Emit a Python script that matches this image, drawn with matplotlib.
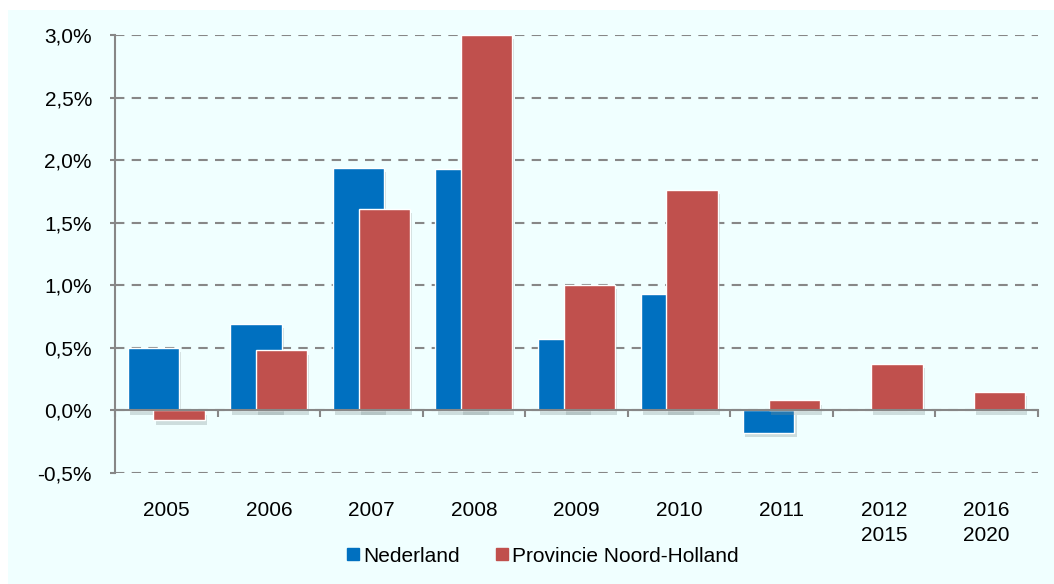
import matplotlib.pyplot as plt
import matplotlib.patheffects as pe
from matplotlib.lines import Line2D
from matplotlib.patches import Rectangle
import numpy as np

# data
categories = ['2005', '2006', '2007', '2008', '2009', '2010', '2011', '2012\n2015', '2016\n2020']
nederland = [0.50, 0.69, 1.94, 1.93, 0.57, 0.93, -0.18, 0.0, 0.0]
noord_holland = [-0.08, 0.48, 1.61, 3.00, 1.00, 1.76, 0.08, 0.37, 0.15]
yticks = [-0.5, 0.0, 0.5, 1.0, 1.5, 2.0, 2.5, 3.0]

blue = '#0070C0'
red = '#C0504D'
grey = '#878787'

plt.rcParams['font.family'] = ['Liberation Sans', 'DejaVu Sans']

fig = plt.figure(figsize=(10.54, 5.84), dpi=100)
fig.patches.append(Rectangle((8 / 1054, 0), 1, 1 - 10 / 584, transform=fig.transFigure,
                             facecolor='#F0FFFF', edgecolor='none', zorder=-10))

ax = fig.add_axes([115 / 1054, 111 / 584, (1038 - 115) / 1054, (473 - 35) / 584])
ax.set_facecolor('none')

x = np.arange(len(categories))
shadow = [pe.SimplePatchShadow(offset=(1.5, -3), shadow_rgbFace='#7f8f8f', alpha=0.3), pe.Normal()]
ax.bar(x - 0.125, nederland, width=0.5, color=blue, edgecolor='white', linewidth=1,
       zorder=3, path_effects=shadow)
ax.bar(x + 0.125, noord_holland, width=0.5, color=red, edgecolor='white', linewidth=1,
       zorder=4, path_effects=shadow)

ax.set_xlim(-0.5, len(categories) - 0.5)
ax.set_ylim(-0.5, 3.0)
ax.set_yticks(yticks)
ax.set_yticklabels([f'{v:.1f}%'.replace('.', ',') for v in yticks], fontsize=15)
ax.yaxis.grid(True, linestyle=(0, (4.5, 3.5)), color=grey, linewidth=1.5, zorder=0)
ax.set_axisbelow(True)
ax.tick_params(axis='y', length=3.6, width=1.5, color=grey, pad=13)

for s in ['top', 'right']:
    ax.spines[s].set_visible(False)
ax.spines['left'].set_color(grey)
ax.spines['left'].set_linewidth(1.5)
ax.spines['bottom'].set_position(('data', 0))
ax.spines['bottom'].set_color(grey)
ax.spines['bottom'].set_linewidth(1.5)
ax.spines['bottom'].set_zorder(5)

ax.set_xticks(np.arange(len(categories) + 1) - 0.5)
ax.set_xticklabels([])
ax.tick_params(axis='x', length=5, width=1.5, color=grey)

for xi, lab in zip(x, categories):
    ax.annotate(lab, (xi, 0), xycoords=('data', 'axes fraction'), xytext=(0, -20.5),
                textcoords='offset points', ha='center', va='top', fontsize=15,
                linespacing=1.35)

handles = [Line2D([], [], marker='s', linestyle='none', markersize=8, color=blue),
           Line2D([], [], marker='s', linestyle='none', markersize=8, color=red)]
fig.legend(handles, ['Nederland', 'Provincie Noord-Holland'], loc='center',
           bbox_to_anchor=(542 / 1054, 1 - 556 / 584), ncol=2, frameon=False,
           fontsize=15, handletextpad=0.1, columnspacing=1.6, handlelength=0.8)

fig.savefig('out.png', dpi=100)
